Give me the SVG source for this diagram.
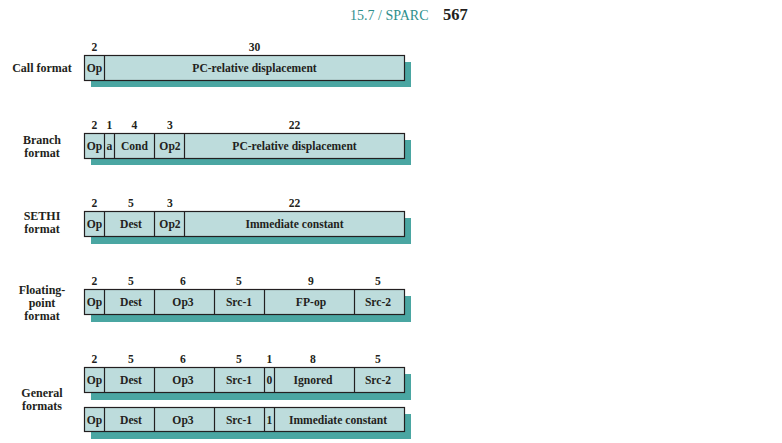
<svg xmlns="http://www.w3.org/2000/svg" width="782" height="443" viewBox="0 0 782 443">
<style>
.sh{fill:#4aa6a2}
.bx{fill:#bddcdc;stroke:#231f20;stroke-width:1.2}
.dv{stroke:#231f20;stroke-width:1.2}
text{font-family:"Liberation Serif","Times New Roman",serif;font-weight:bold;font-size:11.6px;fill:#231f20;text-anchor:middle}
.lb{font-size:12px}
.hd{font-weight:normal;fill:#2e8f8c;font-size:14px;text-anchor:start}
.pg{font-size:16.5px;text-anchor:start}
</style>
<g id="header">
<text class="hd" x="350" y="20">15.7 / SPARC</text>
<text class="pg" x="443" y="20">567</text>
</g>
<g id="call">
<text class="lb" x="42" y="71.5">Call format</text>
<rect class="sh" x="91" y="62" width="320" height="25"/>
<rect class="bx" x="84.5" y="55.5" width="320" height="25"/>
<line class="dv" x1="104.5" y1="55.5" x2="104.5" y2="80.5"/>
<text x="94.5" y="51">2</text><text x="254.5" y="51">30</text>
<text x="94.5" y="71.5">Op</text><text x="254.5" y="71.5">PC-relative displacement</text>
</g>
<g id="branch">
<text class="lb" x="42" y="144">Branch</text><text class="lb" x="42" y="157">format</text>
<rect class="sh" x="91" y="140" width="320" height="25"/>
<rect class="bx" x="84.5" y="133.5" width="320" height="25"/>
<line class="dv" x1="104.5" y1="133.5" x2="104.5" y2="158.5"/>
<line class="dv" x1="114.5" y1="133.5" x2="114.5" y2="158.5"/>
<line class="dv" x1="154.5" y1="133.5" x2="154.5" y2="158.5"/>
<line class="dv" x1="184.5" y1="133.5" x2="184.5" y2="158.5"/>
<text x="94.5" y="129">2</text><text x="109.5" y="129">1</text><text x="134.5" y="129">4</text><text x="170" y="129">3</text><text x="294.5" y="129">22</text>
<text x="94.5" y="149.5">Op</text><text x="109.5" y="149.5">a</text><text x="134.5" y="149.5">Cond</text><text x="170" y="149.5">Op2</text><text x="294.5" y="149.5">PC-relative displacement</text>
</g>
<g id="sethi">
<text class="lb" x="42" y="220">SETHI</text><text class="lb" x="42" y="233">format</text>
<rect class="sh" x="91" y="218" width="320" height="26"/>
<rect class="bx" x="84.5" y="211.5" width="320" height="25"/>
<line class="dv" x1="104.5" y1="211.5" x2="104.5" y2="236.5"/>
<line class="dv" x1="154.5" y1="211.5" x2="154.5" y2="236.5"/>
<line class="dv" x1="184.5" y1="211.5" x2="184.5" y2="236.5"/>
<text x="94.5" y="207">2</text><text x="131" y="207">5</text><text x="170" y="207">3</text><text x="294.5" y="207">22</text>
<text x="94.5" y="227.5">Op</text><text x="131" y="227.5">Dest</text><text x="170" y="227.5">Op2</text><text x="294.5" y="227.5">Immediate constant</text>
</g>
<g id="floating">
<text class="lb" x="42" y="294">Floating-</text><text class="lb" x="42" y="307">point</text><text class="lb" x="42" y="320">format</text>
<rect class="sh" x="91" y="296" width="320" height="26"/>
<rect class="bx" x="84.5" y="289.5" width="320" height="25"/>
<line class="dv" x1="104.5" y1="289.5" x2="104.5" y2="314.5"/>
<line class="dv" x1="154.5" y1="289.5" x2="154.5" y2="314.5"/>
<line class="dv" x1="214.5" y1="289.5" x2="214.5" y2="314.5"/>
<line class="dv" x1="264.5" y1="289.5" x2="264.5" y2="314.5"/>
<line class="dv" x1="354.5" y1="289.5" x2="354.5" y2="314.5"/>
<text x="94.5" y="285">2</text><text x="131" y="285">5</text><text x="183" y="285">6</text><text x="239" y="285">5</text><text x="311" y="285">9</text><text x="378" y="285">5</text>
<text x="94.5" y="305.5">Op</text><text x="131" y="305.5">Dest</text><text x="183" y="305.5">Op3</text><text x="239" y="305.5">Src-1</text><text x="311" y="305.5">FP-op</text><text x="378" y="305.5">Src-2</text>
</g>
<g id="general">
<text class="lb" x="42" y="397">General</text><text class="lb" x="42" y="410">formats</text>
<rect class="sh" x="91" y="374" width="320" height="26"/>
<rect class="bx" x="84.5" y="367.5" width="320" height="25"/>
<line class="dv" x1="104.5" y1="367.5" x2="104.5" y2="392.5"/>
<line class="dv" x1="154.5" y1="367.5" x2="154.5" y2="392.5"/>
<line class="dv" x1="214.5" y1="367.5" x2="214.5" y2="392.5"/>
<line class="dv" x1="264.5" y1="367.5" x2="264.5" y2="392.5"/>
<line class="dv" x1="274.5" y1="367.5" x2="274.5" y2="392.5"/>
<line class="dv" x1="354.5" y1="367.5" x2="354.5" y2="392.5"/>
<text x="94.5" y="363">2</text><text x="131" y="363">5</text><text x="183" y="363">6</text><text x="239" y="363">5</text><text x="269.5" y="363">1</text><text x="313" y="363">8</text><text x="378" y="363">5</text>
<text x="94.5" y="383.5">Op</text><text x="131" y="383.5">Dest</text><text x="183" y="383.5">Op3</text><text x="239" y="383.5">Src-1</text><text x="269.5" y="383.5">0</text><text x="313" y="383.5">Ignored</text><text x="378" y="383.5">Src-2</text>
<rect class="sh" x="91" y="414" width="320" height="25"/>
<rect class="bx" x="84.5" y="407.5" width="320" height="24"/>
<line class="dv" x1="104.5" y1="407.5" x2="104.5" y2="431.5"/>
<line class="dv" x1="154.5" y1="407.5" x2="154.5" y2="431.5"/>
<line class="dv" x1="214.5" y1="407.5" x2="214.5" y2="431.5"/>
<line class="dv" x1="264.5" y1="407.5" x2="264.5" y2="431.5"/>
<line class="dv" x1="274.5" y1="407.5" x2="274.5" y2="431.5"/>
<text x="94.5" y="423.5">Op</text><text x="131" y="423.5">Dest</text><text x="183" y="423.5">Op3</text><text x="239" y="423.5">Src-1</text><text x="269.5" y="423.5">1</text><text x="338" y="423.5">Immediate constant</text>
</g>
</svg>
